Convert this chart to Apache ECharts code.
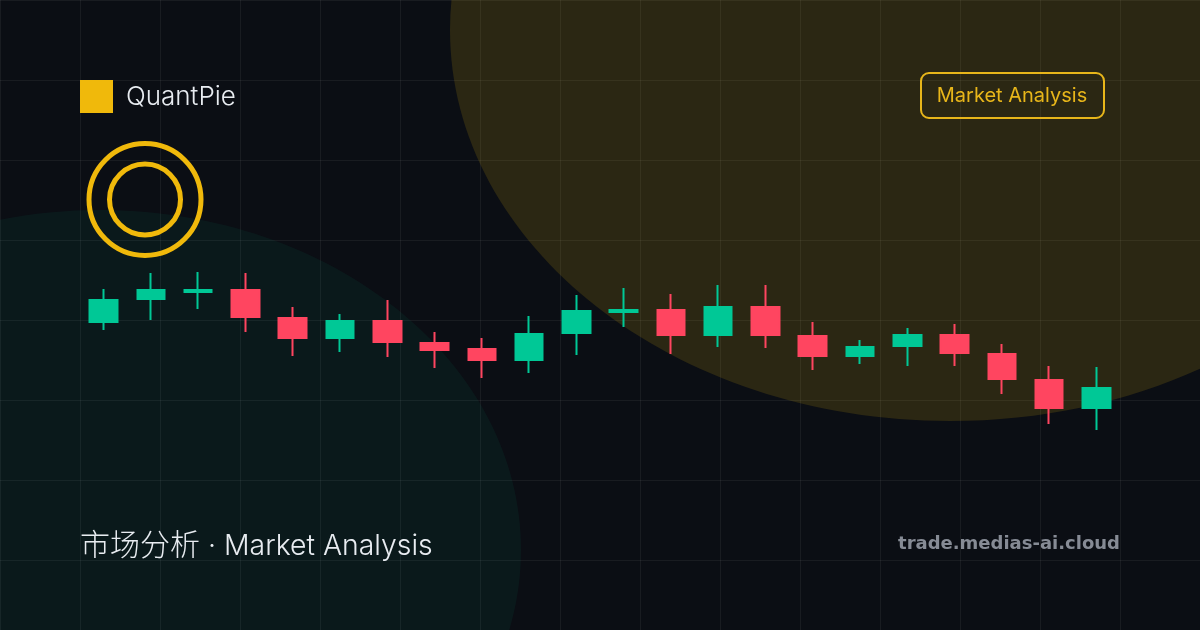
<!DOCTYPE html>
<html><head><meta charset="utf-8">
<style>html,body{margin:0;padding:0;background:#0b0e14}#c{width:1200px;height:630px}</style>
<script src="https://cdn.jsdelivr.net/npm/echarts@6/dist/echarts.min.js"></script>
</head><body><div id="c"></div>
<script>
const categories = ['1','2','3','4','5','6','7','8','9','10','11','12','13','14','15','16','17','18','19','20','21','22'];
const open  = [308,331,338,340,312,292,309,287,281,270,297,318,320,295,323,294,274,284,295,276,250,222];
const close = [330,340,340,313,292,309,288,280,270,296,319,320,295,323,295,274,283,295,277,251,222,242];
const low   = [300,310,321,298,274,278,273,262,252,257,275,303,276,283,282,260,266,264,264,236,206,200];
const high  = [341,357,358,357,323,316,330,298,292,314,335,342,336,345,345,308,290,302,306,286,264,263];
const gridTicks = 80;

const candleData = categories.map((_, i) => [open[i], close[i], low[i], high[i]]);
const font = 'Inter, "Noto Sans CJK SC", sans-serif';
const chart = echarts.init(document.getElementById('c'), null, {renderer:'canvas', width:1200, height:630});
chart.setOption({
  animation:false,
  backgroundColor:'#0b0e14',
  grid:[
    {left:80,right:80,top:0,bottom:0},
    {left:0,right:0,top:0,bottom:0}
  ],
  xAxis:[
    {type:'category',gridIndex:0,data:categories,show:false},
    {type:'value',gridIndex:1,min:0,max:1200,interval:gridTicks,axisLabel:{show:false},axisTick:{show:false},axisLine:{show:false},
     splitLine:{show:true,lineStyle:{color:'rgba(255,255,255,0.06)',width:1}}}
  ],
  yAxis:[
    {type:'value',gridIndex:0,min:0,max:630,show:false,splitLine:{show:false}},
    {type:'value',gridIndex:1,inverse:true,min:0,max:630,interval:gridTicks,axisLabel:{show:false},axisTick:{show:false},axisLine:{show:false},
     splitLine:{show:true,lineStyle:{color:'rgba(255,255,255,0.06)',width:1}}}
  ],
  series:[{
    type:'candlestick',xAxisIndex:0,yAxisIndex:0,data:candleData,barWidth:28,z:5,
    itemStyle:{color:'#00c896',color0:'#ff4560',borderColor:'#00c896',borderColor0:'#ff4560',borderWidth:2}
  }],
  graphic:[
    {type:'ellipse',z:1,silent:true,shape:{cx:950,cy:30,rx:500,ry:391},style:{fill:'rgba(240,190,11,0.14)'}},
    {type:'ellipse',z:1,silent:true,shape:{cx:100,cy:550,rx:421,ry:340},style:{fill:'rgba(0,200,150,0.06)'}},
    {type:'rect',z:10,shape:{x:80,y:80,width:33,height:33},style:{fill:'#f0b90b'}},
    {type:'text',z:10,x:126,y:97.5,style:{text:'QuantPie',fill:'#e8ecf1',font:'300 26px '+font,textVerticalAlign:'middle'}},
    {type:'circle',z:10,shape:{cx:145,cy:199.5,r:56},style:{fill:'none',stroke:'#f0b90b',lineWidth:5}},
    {type:'circle',z:10,shape:{cx:145,cy:199.5,r:35.5},style:{fill:'none',stroke:'#f0b90b',lineWidth:5}},
    {type:'rect',z:10,shape:{x:921,y:73,width:183,height:45,r:8},style:{fill:'none',stroke:'#e8b61a',lineWidth:2}},
    {type:'text',z:10,x:1012,y:95.5,style:{text:'Market Analysis',fill:'#e8b61a',font:'400 20px '+font,textAlign:'center',textVerticalAlign:'middle'}},
    {type:'text',z:10,x:80,y:546,style:{
      text:'{a|市场分析}{b| · Market Analysis}',
      verticalAlign:'middle',
      rich:{
        a:{fill:'#e8ecf1',font:'300 30px '+font},
        b:{fill:'#e8ecf1',font:'300 28.4px '+font}
      }
    }},
    {type:'text',z:10,x:1120,y:544,style:{text:'trade.medias-ai.cloud',fill:'#868b95',font:'700 18px "DejaVu Sans"',textAlign:'right',textVerticalAlign:'middle'}}
  ]
});
</script></body></html>
